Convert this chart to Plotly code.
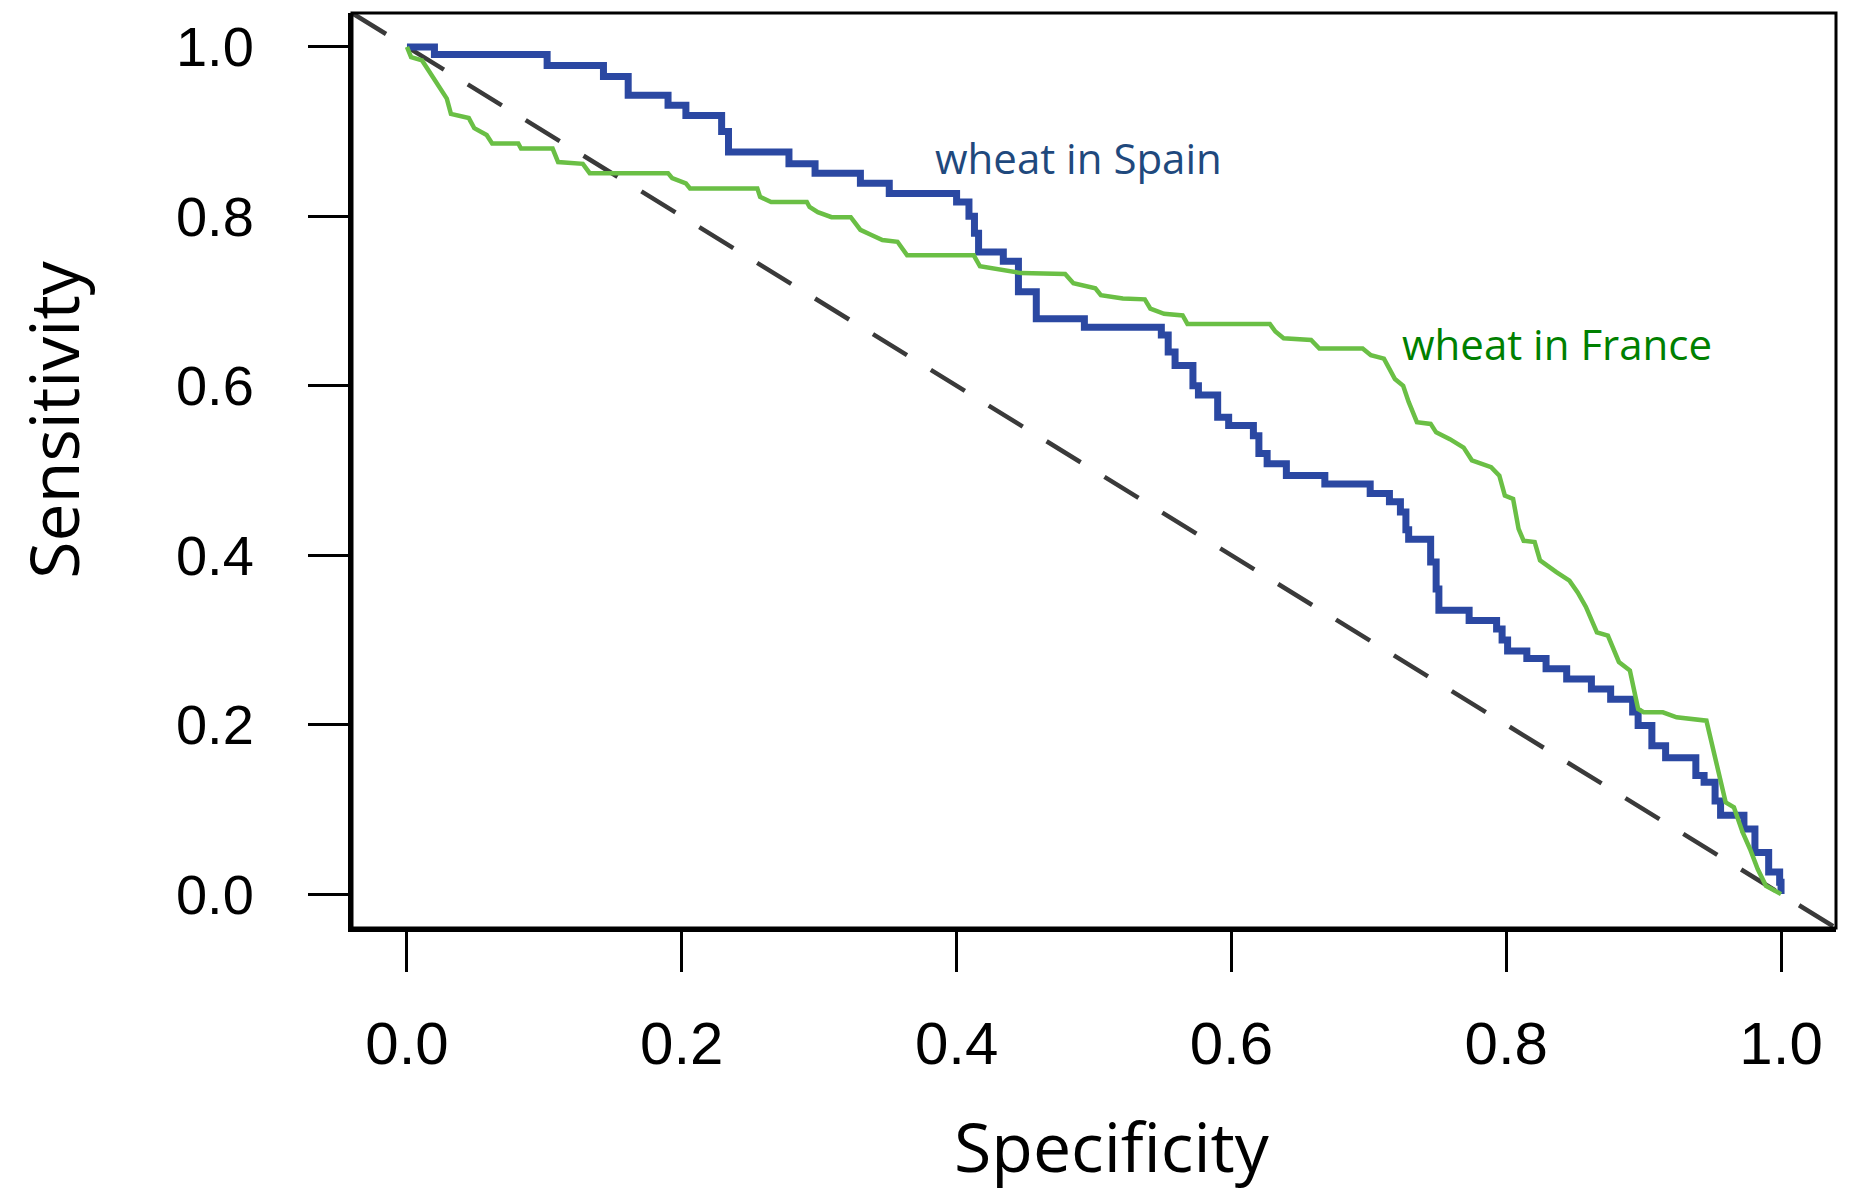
import plotly.graph_objects as go

# ROC curve for wheat in Spain (step curve: specificity at which sensitivity drops, new sensitivity)
spain_spec = [0.000, 0.020, 0.102, 0.143, 0.161, 0.190, 0.203, 0.229, 0.234, 0.278,
              0.297, 0.330, 0.351, 0.400, 0.409, 0.413, 0.416, 0.434, 0.445, 0.458,
              0.493, 0.549, 0.554, 0.559, 0.572, 0.576, 0.590, 0.598, 0.616, 0.620,
              0.626, 0.640, 0.668, 0.701, 0.715, 0.723, 0.727, 0.729, 0.745, 0.749,
              0.751, 0.773, 0.793, 0.797, 0.801, 0.815, 0.829, 0.844, 0.862, 0.876,
              0.892, 0.896, 0.906, 0.916, 0.938, 0.944, 0.952, 0.956, 0.973, 0.981,
              0.991, 0.999, 1.000]
spain_sens = [1.000, 0.991, 0.978, 0.965, 0.943, 0.931, 0.919, 0.900, 0.876, 0.862,
              0.851, 0.839, 0.827, 0.817, 0.800, 0.780, 0.758, 0.747, 0.711, 0.679,
              0.669, 0.660, 0.640, 0.624, 0.600, 0.589, 0.563, 0.553, 0.541, 0.520,
              0.508, 0.494, 0.484, 0.473, 0.463, 0.451, 0.430, 0.419, 0.392, 0.360,
              0.335, 0.323, 0.313, 0.300, 0.287, 0.278, 0.266, 0.254, 0.242, 0.230,
              0.215, 0.199, 0.175, 0.161, 0.140, 0.132, 0.110, 0.093, 0.077, 0.049,
              0.026, 0.014, 0.000]

# ROC curve for wheat in France (finer steps, traced as a polyline)
france_spec = [0.000, 0.003, 0.011, 0.029, 0.032, 0.045, 0.049, 0.058, 0.062, 0.081,
               0.083, 0.106, 0.110, 0.128, 0.133, 0.190, 0.193, 0.203, 0.206, 0.255,
               0.257, 0.265, 0.291, 0.293, 0.299, 0.309, 0.323, 0.330, 0.338, 0.346,
               0.357, 0.364, 0.4125, 0.417, 0.447, 0.479, 0.485, 0.501, 0.505, 0.521,
               0.537, 0.541, 0.551, 0.5645, 0.568, 0.628, 0.632, 0.638, 0.658, 0.664,
               0.6955, 0.7015, 0.711, 0.719, 0.725, 0.729, 0.735, 0.745, 0.749, 0.759,
               0.769, 0.775, 0.789, 0.795, 0.799, 0.805, 0.809, 0.8127, 0.8207, 0.8246,
               0.8365, 0.846, 0.852, 0.858, 0.866, 0.874, 0.882, 0.890, 0.896, 0.900,
               0.914, 0.924, 0.9457, 0.9537, 0.9597, 0.9657, 0.972, 0.9775, 0.983, 0.989,
               1.000]
france_sens = [1.000, 0.988, 0.984, 0.939, 0.921, 0.916, 0.904, 0.896, 0.886, 0.886,
               0.880, 0.880, 0.864, 0.862, 0.851, 0.851, 0.845, 0.839, 0.833, 0.833,
               0.823, 0.817, 0.817, 0.811, 0.805, 0.799, 0.799, 0.784, 0.778, 0.772,
               0.770, 0.754, 0.754, 0.741, 0.733, 0.732, 0.721, 0.715, 0.707, 0.703,
               0.702, 0.691, 0.685, 0.683, 0.673, 0.673, 0.664, 0.656, 0.654, 0.644,
               0.644, 0.636, 0.632, 0.608, 0.600, 0.581, 0.557, 0.555, 0.545, 0.537,
               0.527, 0.512, 0.504, 0.494, 0.4705, 0.4666, 0.431, 0.417, 0.4155, 0.394,
               0.380, 0.370, 0.356, 0.339, 0.309, 0.305, 0.274, 0.264, 0.2185, 0.2146,
               0.2146, 0.2087, 0.2047, 0.1516, 0.1083, 0.1024, 0.073, 0.053, 0.0295, 0.0098,
               0.000]

# Chance line sensitivity = 1 - specificity, spanning the padded axis range
axis_range = [-0.04, 1.04]
diag_spec = [axis_range[0], axis_range[1]]
diag_sens = [1 - axis_range[0], 1 - axis_range[1]]

tick_vals = [0.0, 0.2, 0.4, 0.6, 0.8, 1.0]
tick_text = ["0.0", "0.2", "0.4", "0.6", "0.8", "1.0"]

fig = go.Figure()

fig.add_trace(go.Scatter(
    x=diag_spec, y=diag_sens, mode="lines",
    line=dict(color="#3a3a3a", width=4.5, dash="40px,28px"),
    showlegend=False, hoverinfo="skip"))

fig.add_trace(go.Scatter(
    x=spain_spec, y=spain_sens, mode="lines", name="wheat in Spain",
    line=dict(color="#2b48a2", width=7, shape="hv"),
    showlegend=False))

fig.add_trace(go.Scatter(
    x=france_spec, y=france_sens, mode="lines", name="wheat in France",
    line=dict(color="#6abf45", width=4.5),
    showlegend=False))

axis_common = dict(
    range=axis_range, showgrid=False, zeroline=False,
    showline=True, linecolor="black", linewidth=4,
    ticks="outside", ticklen=40, tickwidth=3, tickcolor="black",
    tickvals=tick_vals, ticktext=tick_text,
)

fig.update_xaxes(**axis_common, tickfont=dict(family="Liberation Sans", size=60, color="black"),
                 ticklabelstandoff=20)
fig.update_yaxes(**axis_common, tickfont=dict(family="Liberation Sans", size=56, color="black"),
                 ticklabelstandoff=43)

# thin frame around the plotting region
fig.add_shape(type="rect", xref="paper", yref="paper", x0=0, y0=0, x1=1, y1=1,
              line=dict(color="black", width=3), layer="above")

fig.add_annotation(text="Sensitivity", xref="paper", yref="paper",
                   x=-0.2018, y=0.556, xanchor="center", yanchor="middle",
                   textangle=-90, showarrow=False,
                   font=dict(family="Open Sans", size=68, color="black"))
fig.add_annotation(text="Specificity", xref="paper", yref="paper",
                   x=0.512, y=-0.238, xanchor="center", yanchor="middle",
                   showarrow=False,
                   font=dict(family="Open Sans", size=68, color="black"))

fig.add_annotation(text="wheat in Spain", x=0.383, y=0.869, xref="x", yref="y",
                   xanchor="left", yanchor="middle", showarrow=False,
                   font=dict(family="Open Sans", size=42, color="#1f497d"))
fig.add_annotation(text="wheat in France", x=0.7225, y=0.650, xref="x", yref="y",
                   xanchor="left", yanchor="middle", showarrow=False,
                   font=dict(family="Open Sans", size=42, color="#008000"))

fig.update_layout(
    width=1856, height=1195,
    margin=dict(l=352, r=20, t=13, b=267),
    paper_bgcolor="white", plot_bgcolor="white",
    showlegend=False,
)

fig.write_html("out.html")
